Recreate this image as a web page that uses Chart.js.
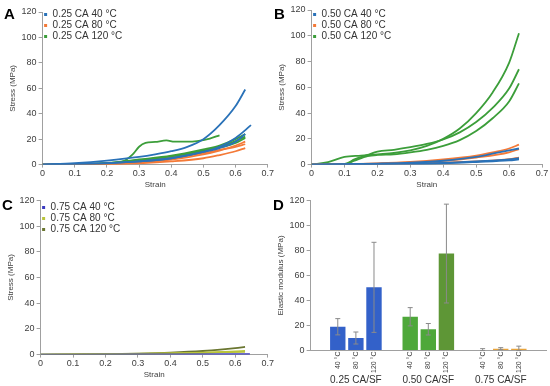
<!DOCTYPE html>
<html>
<head>
<meta charset="utf-8">
<script src="https://cdn.jsdelivr.net/npm/chart.js@4.4.1/dist/chart.umd.min.js"></script>
<style>
  body { margin: 0; background: #fff; width: 550px; height: 386px; position: relative; overflow: hidden; }
  .panel { position: absolute; width: 275px; height: 193px; }
  .tag { position: absolute; font: bold 15px "Liberation Sans", Arial, sans-serif; color: #000; }
</style>
</head>
<body>
<div class="panel" style="left:0;top:0"><canvas id="chartA" width="275" height="193"></canvas></div>
<div class="panel" style="left:275px;top:0"><canvas id="chartB" width="275" height="193"></canvas></div>
<div class="panel" style="left:0;top:193px"><canvas id="chartC" width="275" height="193"></canvas></div>
<div class="panel" style="left:275px;top:193px"><canvas id="chartD" width="275" height="193"></canvas></div>
<div class="tag" style="left:4px;top:5px">A</div>
<div class="tag" style="left:274px;top:5px">B</div>
<div class="tag" style="left:2px;top:196px">C</div>
<div class="tag" style="left:273px;top:196px">D</div>
<script>
// Panel A: 0.25 CA, [strain, stress MPa] per specimen
const a40 = [
  [[0,0],[0.1,1.2],[0.2,3.2],[0.3,6],[0.35,8],[0.4,10.5],[0.45,14],[0.5,20],[0.55,31],[0.6,46],[0.63,59]],
  [[0,0],[0.1,0.5],[0.2,1.2],[0.3,2.5],[0.4,5],[0.5,10],[0.55,14],[0.6,21],[0.648,31]],
  [[0,0],[0.2,1],[0.3,2.5],[0.4,5],[0.5,10],[0.55,13],[0.6,18],[0.63,24]]
];
const a80 = [
  [[0,0],[0.2,0.5],[0.3,1.5],[0.4,4],[0.5,8],[0.55,11],[0.6,15],[0.63,18]],
  [[0,0],[0.2,0.3],[0.3,1],[0.4,2.5],[0.5,5],[0.55,7.5],[0.6,10.5],[0.63,13]],
  [[0,0],[0.2,0.5],[0.3,2],[0.4,5],[0.5,9],[0.55,11.5],[0.6,14],[0.63,16]]
];
const a120 = [
  [[0,0],[0.1,0.3],[0.2,1],[0.25,2.5],[0.28,8],[0.3,14],[0.32,17],[0.35,17.8],[0.385,19],[0.41,18],[0.45,18],[0.48,18.5],[0.52,20.5],[0.55,23]],
  [[0,0],[0.2,1],[0.3,3.5],[0.4,6.5],[0.5,11],[0.55,14],[0.6,18.5],[0.63,22]],
  [[0,0],[0.2,1.3],[0.3,4],[0.4,7],[0.5,12],[0.55,15],[0.6,20],[0.63,24]],
  [[0,0],[0.2,0.8],[0.3,3],[0.4,6],[0.5,10.5],[0.6,17],[0.63,21]]
];

// Panel B: 0.50 CA
const b40 = [
  [[0,0],[0.2,0.8],[0.3,1.5],[0.4,3],[0.5,6],[0.55,8.5],[0.6,11],[0.63,12.5]],
  [[0,0],[0.3,0.5],[0.4,1],[0.5,2],[0.6,3.2],[0.63,4]],
  [[0,0],[0.3,0.7],[0.4,1.3],[0.5,2.5],[0.6,4],[0.63,5]]
];
const b80 = [
  [[0,0],[0.2,1],[0.3,2],[0.4,4],[0.5,7],[0.55,9.5],[0.6,12.5],[0.63,15.5]],
  [[0,0],[0.2,0.8],[0.3,1.5],[0.4,3],[0.5,5.5],[0.6,9.5],[0.63,12]],
  [[0,0],[0.3,0.8],[0.4,1.5],[0.5,2.5],[0.6,4.2],[0.63,5.5]]
];
const b120 = [
  [[0,0],[0.05,2],[0.1,6],[0.15,7],[0.2,8],[0.25,9],[0.3,11],[0.35,14.5],[0.4,20],[0.45,28],[0.5,40],[0.55,56],[0.6,79],[0.63,102]],
  [[0,0],[0.1,0.5],[0.13,4],[0.17,7.5],[0.2,10],[0.25,11.5],[0.3,13.5],[0.35,16],[0.4,19.5],[0.45,25],[0.5,33],[0.55,44],[0.6,59],[0.63,74]],
  [[0,0],[0.1,0.3],[0.13,3],[0.17,6.5],[0.2,7.5],[0.25,8],[0.3,9.5],[0.35,11.5],[0.4,14.5],[0.45,19],[0.5,26],[0.55,36],[0.6,49],[0.63,63]]
];

// Panel C: 0.75 CA
const c40 = [
  [[0,0],[0.3,0.1],[0.6,0.3],[0.645,0.3]]
];
const c80 = [
  [[0,0],[0.2,0.3],[0.4,1],[0.5,1.6],[0.6,2.5],[0.63,2.8]],
  [[0,0],[0.3,0.5],[0.5,1.4],[0.63,2.2]]
];
const c120 = [
  [[0,0],[0.1,0.2],[0.2,0.4],[0.3,0.8],[0.4,1.5],[0.5,2.8],[0.6,5],[0.63,6]]
];

// Panel D: elastic modulus (MPa)
const dTemps = ['40 °C', '80 °C', '120 °C'];
const dGroups = ['0.25 CA/SF', '0.50 CA/SF', '0.75 CA/SF'];
const mod025 = [19, 10, 50.5];
const mod050 = [27, 17, 77.5];
const mod075 = [0.5, 1.5, 1.5];
const err025 = [6.5, 4.8, 36];
const err050 = [7.3, 4.6, 39.5];
const err075 = [1, 0.8, 2];

const FONT = '"Liberation Sans", Arial, sans-serif';
Chart.defaults.font.family = FONT;
Chart.defaults.color = '#404040';

function curves(list, color, label) {
  return list.map((pts, i) => ({
    label: label,
    data: pts.map(p => ({ x: p[0], y: p[1] })),
    borderColor: color,
    backgroundColor: color,
    borderWidth: 1.8,
    pointRadius: 0,
    cubicInterpolationMode: 'monotone',
    inLegend: i === 0
  }));
}

function lineOptions(pad) {
  return {
    responsive: false,
    animation: false,
    devicePixelRatio: 1,
    layout: { padding: pad },
    plugins: {
      legend: {
        position: 'chartArea',
        align: 'start',
        title: { display: true, text: ' ', font: { size: 7 }, padding: 0 },
        labels: {
          usePointStyle: true,
          pointStyle: 'rect',
          boxWidth: 4,
          boxHeight: 3,
          padding: 1,
          font: { size: 10 },
          color: '#333',
          generateLabels(chart) {
            return Chart.defaults.plugins.legend.labels.generateLabels(chart)
              .filter(l => chart.data.datasets[l.datasetIndex].inLegend)
              .map(l => Object.assign(l, { lineWidth: 0 }));
          }
        }
      },
      tooltip: { enabled: false }
    },
    scales: {
      x: {
        type: 'linear', min: 0, max: 0.7,
        ticks: { stepSize: 0.1, font: { size: 9 }, padding: 1, callback: v => Math.round(v * 10) / 10 },
        grid: { drawOnChartArea: false, tickLength: 3, color: '#a0a0a0' },
        border: { color: '#a0a0a0' },
        title: { display: true, text: 'Strain', font: { size: 8 }, padding: { top: 0, bottom: 0 } }
      },
      y: {
        min: 0, max: 120,
        ticks: { stepSize: 10, font: { size: 9 }, padding: 2 },
        grid: { drawOnChartArea: false, tickLength: 4, color: '#a0a0a0' },
        border: { color: '#a0a0a0' },
        title: { display: true, text: 'Stress (MPa)', font: { size: 8 }, padding: { top: 0, bottom: 2 } }
      }
    }
  };
}

new Chart(document.getElementById('chartA'), {
  type: 'line',
  data: {
    datasets: [
      ...curves(a40, '#2a72b8', '0.25 CA 40 °C'),
      ...curves(a80, '#f47a38', '0.25 CA 80 °C'),
      ...curves(a120, '#3c9e3a', '0.25 CA 120 °C')
    ]
  },
  options: lineOptions({ left: 8, top: 12, right: 4, bottom: 3 })
});

new Chart(document.getElementById('chartB'), {
  type: 'line',
  data: {
    datasets: [
      ...curves(b40, '#2a72b8', '0.50 CA 40 °C'),
      ...curves(b80, '#f47a38', '0.50 CA 80 °C'),
      ...curves(b120, '#3c9e3a', '0.50 CA 120 °C')
    ]
  },
  options: lineOptions({ left: 2, top: 10, right: 8, bottom: 3 })
});

new Chart(document.getElementById('chartC'), {
  type: 'line',
  data: {
    datasets: [
      ...curves(c40, '#3a3ac0', '0.75 CA 40 °C'),
      ...curves(c80, '#b9c43a', '0.75 CA 80 °C'),
      ...curves(c120, '#6a7630', '0.75 CA 120 °C')
    ]
  },
  options: lineOptions({ left: 6, top: 0, right: 4, bottom: 6 })
});

// Panel D: 13 category slots, blank slots separate the groups
const dLabels = [''];
const dValues = [null];
const dErrors = [null];
const dColors = ['#000'];
[[mod025, err025, ['#3361c9', '#3361c9', '#3361c9']],
 [mod050, err050, ['#4ea83a', '#4ea83a', '#5e9636']],
 [mod075, err075, ['#e8a43c', '#e8a43c', '#e8a43c']]].forEach(([m, e, c]) => {
  dTemps.forEach((t, i) => {
    dLabels.push(t); dValues.push(m[i]); dErrors.push(e[i]); dColors.push(c[i]);
  });
  dLabels.push(''); dValues.push(null); dErrors.push(null); dColors.push('#000');
});

const errorBars = {
  id: 'errorBars',
  afterDatasetsDraw(chart) {
    const ys = chart.scales.y, ctx = chart.ctx;
    ctx.save();
    ctx.strokeStyle = '#8a8a8a';
    ctx.lineWidth = 1;
    chart.getDatasetMeta(0).data.forEach((bar, i) => {
      if (dErrors[i] == null) return;
      const top = ys.getPixelForValue(dValues[i] + dErrors[i]);
      const bot = ys.getPixelForValue(Math.max(0, dValues[i] - dErrors[i]));
      ctx.beginPath();
      ctx.moveTo(bar.x, top); ctx.lineTo(bar.x, bot);
      ctx.moveTo(bar.x - 2.5, top); ctx.lineTo(bar.x + 2.5, top);
      ctx.moveTo(bar.x - 2.5, bot); ctx.lineTo(bar.x + 2.5, bot);
      ctx.stroke();
    });
    ctx.restore();
  }
};

const groupLabels = {
  id: 'groupLabels',
  afterDraw(chart) {
    const xs = chart.scales.x, ctx = chart.ctx;
    ctx.save();
    ctx.font = '10px ' + FONT;
    ctx.fillStyle = '#333';
    ctx.textAlign = 'center';
    ctx.textBaseline = 'bottom';
    dGroups.forEach((g, i) => ctx.fillText(g, xs.getPixelForValue(2 + i * 4), chart.height - 1));
    ctx.restore();
  }
};

new Chart(document.getElementById('chartD'), {
  type: 'bar',
  data: {
    labels: dLabels,
    datasets: [{ data: dValues, backgroundColor: dColors, barPercentage: 0.85, categoryPercentage: 1 }]
  },
  options: {
    responsive: false,
    animation: false,
    devicePixelRatio: 1,
    layout: { padding: { left: 1, top: 6, right: 4, bottom: 12 } },
    plugins: { legend: { display: false }, tooltip: { enabled: false } },
    scales: {
      x: {
        ticks: { autoSkip: false, minRotation: 90, maxRotation: 90, font: { size: 7 }, padding: 1 },
        grid: { display: false, drawTicks: false, tickLength: 0 },
        border: { color: '#a0a0a0' }
      },
      y: {
        min: 0, max: 120,
        ticks: { stepSize: 10, font: { size: 9 }, padding: 2 },
        grid: { drawOnChartArea: false, tickLength: 4, color: '#a0a0a0' },
        border: { color: '#a0a0a0' },
        title: { display: true, text: 'Elastic modulus (MPa)', font: { size: 8 }, padding: { top: 0, bottom: 2 } }
      }
    }
  },
  plugins: [errorBars, groupLabels]
});
</script>
</body>
</html>
